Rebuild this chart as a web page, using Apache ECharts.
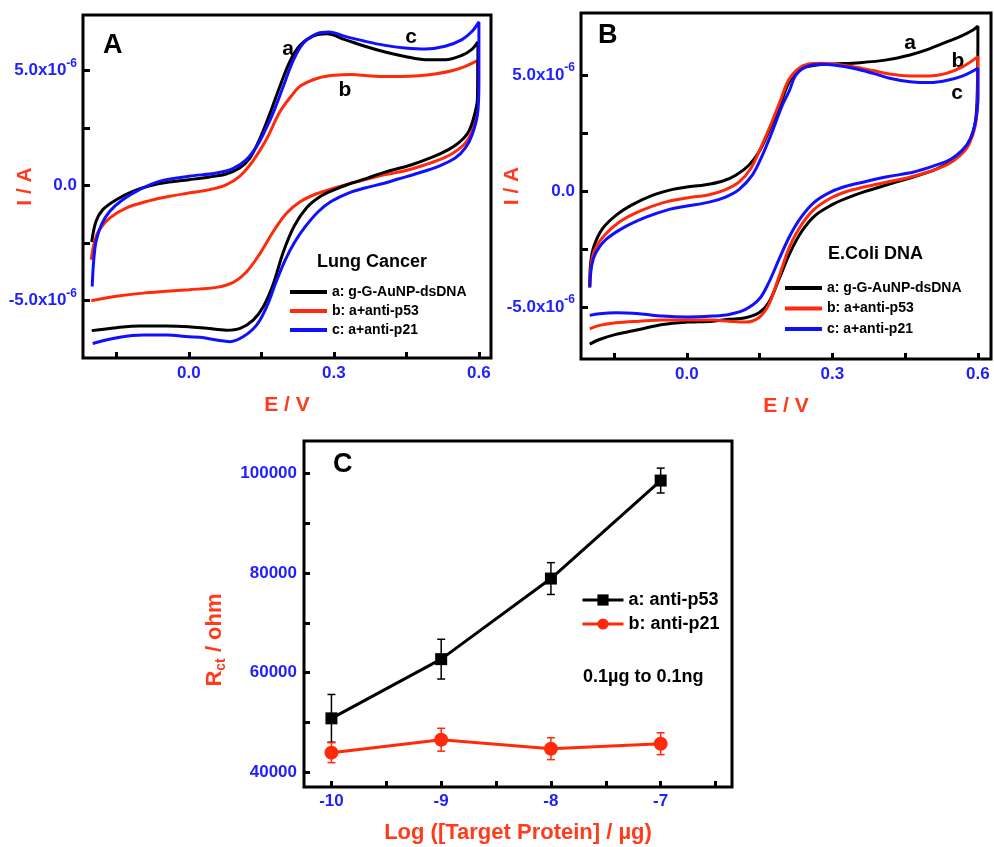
<!DOCTYPE html>
<html>
<head>
<meta charset="utf-8">
<title>CV and Rct</title>
<script src="https://cdn.jsdelivr.net/npm/echarts@6/dist/echarts.min.js"></script>
<style>
    html, body { margin: 0; padding: 0; background: #fff; }
    #chart { width: 994px; height: 847px; }
</style>
</head>
<body>
<div id="chart"></div>
<script>
// 坐标刻度
var eTicks = [-0.15, 0, 0.15, 0.3, 0.45, 0.6];
var eLabels = [0, 0.3, 0.6];
var iTicks = [-5, -2.5, 0, 2.5, 5];          // 电流, µA
var iLabels = [-5, 0, 5];
var logTicks = [-10, -9.5, -9, -8.5, -8, -7.5, -7, -6.5];
var logLabels = [-10, -9, -8, -7];
var rctTicks = [40000, 50000, 60000, 70000, 80000, 90000, 100000];
var rctLabels = [40000, 60000, 80000, 100000];

var cvNames = ['a: g-G-AuNP-dsDNA', 'b: a+anti-p53', 'c: a+anti-p21'];

// A: Lung Cancer, [E (V), I (µA)], 正扫 -> 反扫
var lungA = [[-0.201,-2.45],[-0.192,-1.55],[-0.178,-1.04],[-0.150,-0.61],[-0.116,-0.25],[-0.081,0.0],[-0.047,0.14],[0.0,0.26],[0.043,0.38],[0.077,0.51],[0.105,0.77],[0.126,1.2],[0.146,2.0],[0.167,3.1],[0.188,4.3],[0.209,5.4],[0.23,6.1],[0.257,6.5],[0.285,6.6],[0.323,6.35],[0.364,6.06],[0.406,5.81],[0.447,5.62],[0.489,5.48],[0.53,5.48],[0.565,5.67],[0.586,5.94],[0.598,6.25],
    [0.597,3.8],[0.589,2.94],[0.577,2.29],[0.558,1.86],[0.537,1.57],[0.506,1.26],[0.461,0.91],[0.409,0.61],[0.368,0.32],[0.326,0.03],[0.299,-0.19],[0.271,-0.48],[0.244,-0.95],[0.218,-1.75],[0.195,-2.9],[0.175,-4.25],[0.154,-5.26],[0.133,-5.84],[0.106,-6.2],[0.078,-6.28],[0.037,-6.2],[0.0,-6.13],[-0.046,-6.1],[-0.101,-6.1],[-0.15,-6.17],[-0.201,-6.3]];
var lungB = [[-0.202,-3.22],[-0.195,-2.42],[-0.185,-1.91],[-0.164,-1.41],[-0.13,-0.97],[-0.081,-0.65],[-0.04,-0.46],[0.0,-0.32],[0.043,-0.17],[0.077,0.04],[0.105,0.41],[0.132,1.06],[0.16,2.0],[0.188,3.2],[0.212,3.9],[0.232,4.35],[0.268,4.68],[0.302,4.8],[0.337,4.83],[0.371,4.78],[0.406,4.75],[0.44,4.75],[0.475,4.78],[0.509,4.86],[0.544,5.0],[0.572,5.19],[0.596,5.43],
    [0.598,3.9],[0.59,2.65],[0.577,2.0],[0.557,1.57],[0.53,1.23],[0.489,0.91],[0.447,0.65],[0.406,0.48],[0.371,0.3],[0.337,0.12],[0.302,-0.1],[0.264,-0.35],[0.23,-0.7],[0.202,-1.2],[0.175,-1.98],[0.147,-2.95],[0.119,-3.75],[0.092,-4.2],[0.057,-4.42],[0.0,-4.52],[-0.047,-4.59],[-0.095,-4.67],[-0.15,-4.81],[-0.202,-5.0]];
var lungC = [[-0.2,-4.38],[-0.197,-3.29],[-0.192,-2.42],[-0.181,-1.7],[-0.164,-1.12],[-0.137,-0.61],[-0.102,-0.17],[-0.061,0.19],[0.0,0.41],[0.057,0.55],[0.091,0.74],[0.119,1.13],[0.143,1.8],[0.16,2.5],[0.175,3.2],[0.195,4.3],[0.216,5.45],[0.237,6.2],[0.264,6.6],[0.29,6.68],[0.323,6.49],[0.364,6.28],[0.406,6.1],[0.447,5.99],[0.489,5.94],[0.53,6.06],[0.565,6.35],[0.586,6.71],[0.6,7.12],
    [0.6,4.5],[0.597,3.09],[0.586,2.22],[0.572,1.64],[0.551,1.2],[0.516,0.84],[0.475,0.55],[0.433,0.29],[0.406,0.12],[0.364,-0.1],[0.33,-0.32],[0.295,-0.68],[0.268,-1.12],[0.24,-1.8],[0.219,-2.45],[0.2,-3.2],[0.181,-4.15],[0.161,-5.26],[0.14,-6.06],[0.112,-6.57],[0.085,-6.78],[0.057,-6.71],[0.023,-6.59],[0.0,-6.57],[-0.046,-6.49],[-0.095,-6.49],[-0.143,-6.59],[-0.199,-6.86]];

// B: E.Coli DNA
var coliA = [[-0.2,-4.09],[-0.198,-3.08],[-0.191,-2.36],[-0.174,-1.63],[-0.146,-1.05],[-0.112,-0.59],[-0.071,-0.19],[-0.029,0.07],[0.0,0.17],[0.039,0.27],[0.073,0.42],[0.101,0.68],[0.128,1.11],[0.149,1.69],[0.169,2.56],[0.19,3.57],[0.211,4.7],[0.233,5.25],[0.268,5.43],[0.302,5.47],[0.357,5.53],[0.412,5.65],[0.46,5.86],[0.494,6.08],[0.528,6.36],[0.563,6.65],[0.59,6.94],[0.6,7.1],
    [0.599,4.5],[0.595,2.99],[0.585,2.27],[0.568,1.69],[0.544,1.26],[0.509,0.9],[0.468,0.61],[0.413,0.27],[0.365,-0.04],[0.331,-0.3],[0.297,-0.62],[0.262,-1.1],[0.235,-1.8],[0.212,-2.7],[0.19,-3.8],[0.169,-4.81],[0.149,-5.25],[0.121,-5.46],[0.087,-5.53],[0.053,-5.61],[0.0,-5.65],[-0.05,-5.75],[-0.098,-5.97],[-0.146,-6.18],[-0.18,-6.4],[-0.2,-6.6]];
var coliB = [[-0.2,-4.16],[-0.197,-3.15],[-0.189,-2.5],[-0.17,-1.92],[-0.139,-1.34],[-0.098,-0.88],[-0.05,-0.51],[0.0,-0.3],[0.046,-0.16],[0.08,0.06],[0.108,0.39],[0.132,0.97],[0.152,1.84],[0.173,2.85],[0.193,3.9],[0.212,4.85],[0.24,5.4],[0.274,5.5],[0.302,5.47],[0.343,5.36],[0.384,5.19],[0.418,5.04],[0.46,4.96],[0.501,4.96],[0.535,5.07],[0.569,5.36],[0.6,5.79],
    [0.6,4.3],[0.595,2.85],[0.581,1.98],[0.564,1.55],[0.537,1.14],[0.502,0.85],[0.454,0.56],[0.413,0.39],[0.365,0.17],[0.331,-0.01],[0.297,-0.3],[0.262,-0.8],[0.235,-1.5],[0.212,-2.4],[0.19,-3.7],[0.169,-4.9],[0.149,-5.45],[0.121,-5.65],[0.087,-5.61],[0.053,-5.56],[0.0,-5.56],[-0.05,-5.56],[-0.098,-5.61],[-0.146,-5.68],[-0.18,-5.79],[-0.2,-5.94]];
var coliC = [[-0.2,-4.16],[-0.196,-3.22],[-0.187,-2.64],[-0.167,-2.1],[-0.132,-1.6],[-0.084,-1.13],[-0.036,-0.79],[0.0,-0.65],[0.046,-0.48],[0.08,-0.26],[0.108,0.07],[0.135,0.68],[0.156,1.55],[0.176,2.56],[0.197,3.7],[0.211,4.3],[0.225,5.0],[0.247,5.36],[0.281,5.46],[0.302,5.43],[0.343,5.29],[0.384,5.07],[0.418,4.86],[0.46,4.71],[0.501,4.67],[0.535,4.76],[0.569,4.96],[0.6,5.29],
    [0.6,4.0],[0.595,3.0],[0.585,2.27],[0.568,1.76],[0.544,1.37],[0.509,1.08],[0.468,0.82],[0.413,0.61],[0.365,0.39],[0.331,0.22],[0.297,-0.04],[0.262,-0.5],[0.235,-1.15],[0.212,-1.95],[0.19,-2.95],[0.169,-3.95],[0.149,-4.67],[0.121,-5.1],[0.087,-5.32],[0.053,-5.39],[0.0,-5.43],[-0.05,-5.39],[-0.098,-5.29],[-0.146,-5.25],[-0.18,-5.29],[-0.2,-5.36]];

// C: Rct
var logConc = [-10, -9, -8, -7];
var p53Rct = [50800, 62700, 78900, 98600];
var p53Err = [4800, 4000, 3200, 2500];
var p21Rct = [43900, 46500, 44700, 45700];
var p21Err = [2000, 2300, 2200, 2200];

var BLUE = '#1f1fff', RED = '#ff3b1c';
var COLORS = ['#000000', '#ff2a0a', '#1010ff'];
var FONT = '"Liberation Sans", Arial, sans-serif';

function cvXAxis(gi, min, max) {
    return {
        type: 'value', gridIndex: gi, min: min, max: max,
        axisLine: { show: false, onZero: false }, splitLine: { show: false },
        axisTick: { inside: true, length: 6, lineStyle: { width: 3, color: '#000' }, customValues: eTicks },
        axisLabel: { customValues: eLabels, margin: 7, color: BLUE, fontSize: 17, fontWeight: 'bold',
            formatter: function (v) { return v.toFixed(1); } },
        name: 'E / V', nameLocation: 'middle', nameGap: 37, nameMoveOverlap: false,
        nameTextStyle: { color: RED, fontSize: 21, fontWeight: 'bold' }
    };
}

function cvYAxis(gi, min, max, gap) {
    return {
        type: 'value', gridIndex: gi, min: min, max: max,
        axisLine: { show: false, onZero: false }, splitLine: { show: false },
        axisTick: { inside: true, length: 7, lineStyle: { width: 3, color: '#000' }, customValues: iTicks },
        axisLabel: { customValues: iLabels, margin: 6,
            formatter: function (v) {
                if (v === 0) return '{n|0.0}';
                return '{n|' + (v < 0 ? '-' : '') + Math.abs(v).toFixed(1) + 'x10}{s|-6}';
            },
            rich: {
                n: { color: BLUE, fontSize: 17, fontWeight: 'bold', lineHeight: 26 },
                s: { color: BLUE, fontSize: 12, fontWeight: 'bold', lineHeight: 12, verticalAlign: 'top' }
            } },
        name: 'I / A', nameLocation: 'middle', nameGap: gap, nameMoveOverlap: false,
        nameTextStyle: { color: RED, fontSize: 21, fontWeight: 'bold' }
    };
}

function cvSeries(gi, data, k) {
    return {
        name: cvNames[k], type: 'line', xAxisIndex: gi, yAxisIndex: gi,
        data: data, showSymbol: false, smooth: 0.35,
        lineStyle: { color: COLORS[k], width: 3 }, itemStyle: { color: COLORS[k] }
    };
}

function errSeries(vals, errs, color) {
    return {
        type: 'custom', xAxisIndex: 2, yAxisIndex: 2, z: 1,
        data: logConc.map(function (x, i) { return [x, vals[i] - errs[i], vals[i] + errs[i]]; }),
        encode: { x: 0, y: [1, 2] },
        renderItem: function (params, api) {
            var lo = api.coord([api.value(0), api.value(1)]);
            var hi = api.coord([api.value(0), api.value(2)]);
            var w = 4, st = { stroke: color, lineWidth: 1.5 };
            return { type: 'group', children: [
                { type: 'line', shape: { x1: lo[0], y1: lo[1], x2: hi[0], y2: hi[1] }, style: st },
                { type: 'line', shape: { x1: lo[0] - w, y1: lo[1], x2: lo[0] + w, y2: lo[1] }, style: st },
                { type: 'line', shape: { x1: hi[0] - w, y1: hi[1], x2: hi[0] + w, y2: hi[1] }, style: st }
            ] };
        }
    };
}

function txt(text, x, y, size, align) {
    return { type: 'text', x: x, y: y, silent: true,
        style: { text: text, fill: '#000', font: 'bold ' + size + 'px ' + FONT,
            textAlign: align || 'center', textVerticalAlign: 'middle' } };
}

var chartDom = document.getElementById('chart');
var myChart = echarts.init(chartDom);
var gridStyle = { show: true, borderColor: '#000', borderWidth: 3, backgroundColor: 'transparent',
    containLabel: false, outerBoundsMode: 'none' };
var legendCv = {
    orient: 'vertical', icon: 'rect', itemWidth: 37, itemHeight: 4, itemGap: 3,
    textStyle: { color: '#000', fontSize: 14, fontWeight: 'bold', lineHeight: 16 },
    data: cvNames, selectedMode: false
};

var option = {
    animation: false,
    textStyle: { fontFamily: FONT },
    grid: [
        Object.assign({ left: 83, top: 15, width: 408, height: 343 }, gridStyle),
        Object.assign({ left: 581, top: 13, width: 410, height: 346 }, gridStyle),
        Object.assign({ left: 304, top: 441, width: 428, height: 346 }, gridStyle)
    ],
    xAxis: [
        cvXAxis(0, -0.219, 0.625),
        cvXAxis(1, -0.218, 0.627),
        {
            type: 'value', gridIndex: 2, min: -10.25, max: -6.35,
            axisLine: { show: false, onZero: false }, splitLine: { show: false },
            axisTick: { inside: true, length: 6, lineStyle: { width: 3, color: '#000' }, customValues: logTicks },
            axisLabel: { customValues: logLabels, margin: 6, color: BLUE, fontSize: 17, fontWeight: 'bold' },
            name: 'Log ([Target Protein] / µg)', nameLocation: 'middle', nameGap: 35, nameMoveOverlap: false,
            nameTextStyle: { color: RED, fontSize: 22, fontWeight: 'bold' }
        }
    ],
    yAxis: [
        cvYAxis(0, -7.49, 7.42, 47),
        cvYAxis(1, -7.24, 7.67, 58),
        {
            type: 'value', gridIndex: 2, min: 37000, max: 106550,
            axisLine: { show: false, onZero: false }, splitLine: { show: false },
            axisTick: { inside: true, length: 6, lineStyle: { width: 3, color: '#000' }, customValues: rctTicks },
            axisLabel: { customValues: rctLabels, margin: 7, color: BLUE, fontSize: 17, fontWeight: 'bold',
                formatter: function (v) { return String(v); } },
            name: '{r|R}{s|ct}{r| / ohm}', nameLocation: 'middle', nameGap: 76, nameMoveOverlap: false,
            nameTextStyle: {
                padding: [0, 52, 0, 0],
                rich: {
                    r: { color: RED, fontSize: 22, fontWeight: 'bold', lineHeight: 26 },
                    s: { color: RED, fontSize: 14, fontWeight: 'bold', lineHeight: 14, verticalAlign: 'bottom' }
                }
            }
        }
    ],
    legend: [
        Object.assign({ left: 285, top: 279 }, legendCv),
        Object.assign({ left: 780, top: 275 }, legendCv, { itemGap: 4.5 }),
        {
            orient: 'vertical', left: 576, top: 585, itemWidth: 41, itemHeight: 14, itemGap: 4,
            lineStyle: { width: 3 },
            textStyle: { color: '#000', fontSize: 18, fontWeight: 'bold', lineHeight: 20 },
            data: ['a: anti-p53', 'b: anti-p21'], selectedMode: false
        }
    ],
    graphic: [
        txt('A', 103, 46, 27, 'left'),
        txt('a', 288, 49, 21), txt('b', 345, 90, 21), txt('c', 411, 37, 21),
        txt('Lung Cancer', 317, 262, 18, 'left'),
        txt('B', 598, 36, 27, 'left'),
        txt('a', 910, 43, 21), txt('b', 958, 61, 21), txt('c', 957, 93, 21),
        txt('E.Coli DNA', 828, 254, 18, 'left'),
        txt('C', 333, 465, 27, 'left'),
        txt('0.1µg to 0.1ng', 583, 677, 18, 'left')
    ],
    series: [
        cvSeries(0, lungB, 1), cvSeries(0, lungA, 0), cvSeries(0, lungC, 2),
        cvSeries(1, coliA, 0), cvSeries(1, coliB, 1), cvSeries(1, coliC, 2),
        errSeries(p53Rct, p53Err, '#000'),
        errSeries(p21Rct, p21Err, COLORS[1]),
        {
            name: 'a: anti-p53', type: 'line', xAxisIndex: 2, yAxisIndex: 2,
            data: logConc.map(function (x, i) { return [x, p53Rct[i]]; }),
            symbol: 'rect', symbolSize: 12, z: 3,
            lineStyle: { color: '#000', width: 3 }, itemStyle: { color: '#000' }
        },
        {
            name: 'b: anti-p21', type: 'line', xAxisIndex: 2, yAxisIndex: 2,
            data: logConc.map(function (x, i) { return [x, p21Rct[i]]; }),
            symbol: 'circle', symbolSize: 14, z: 3,
            lineStyle: { color: COLORS[1], width: 3 }, itemStyle: { color: COLORS[1] }
        }
    ]
};

myChart.setOption(option);
</script>
</body>
</html>
